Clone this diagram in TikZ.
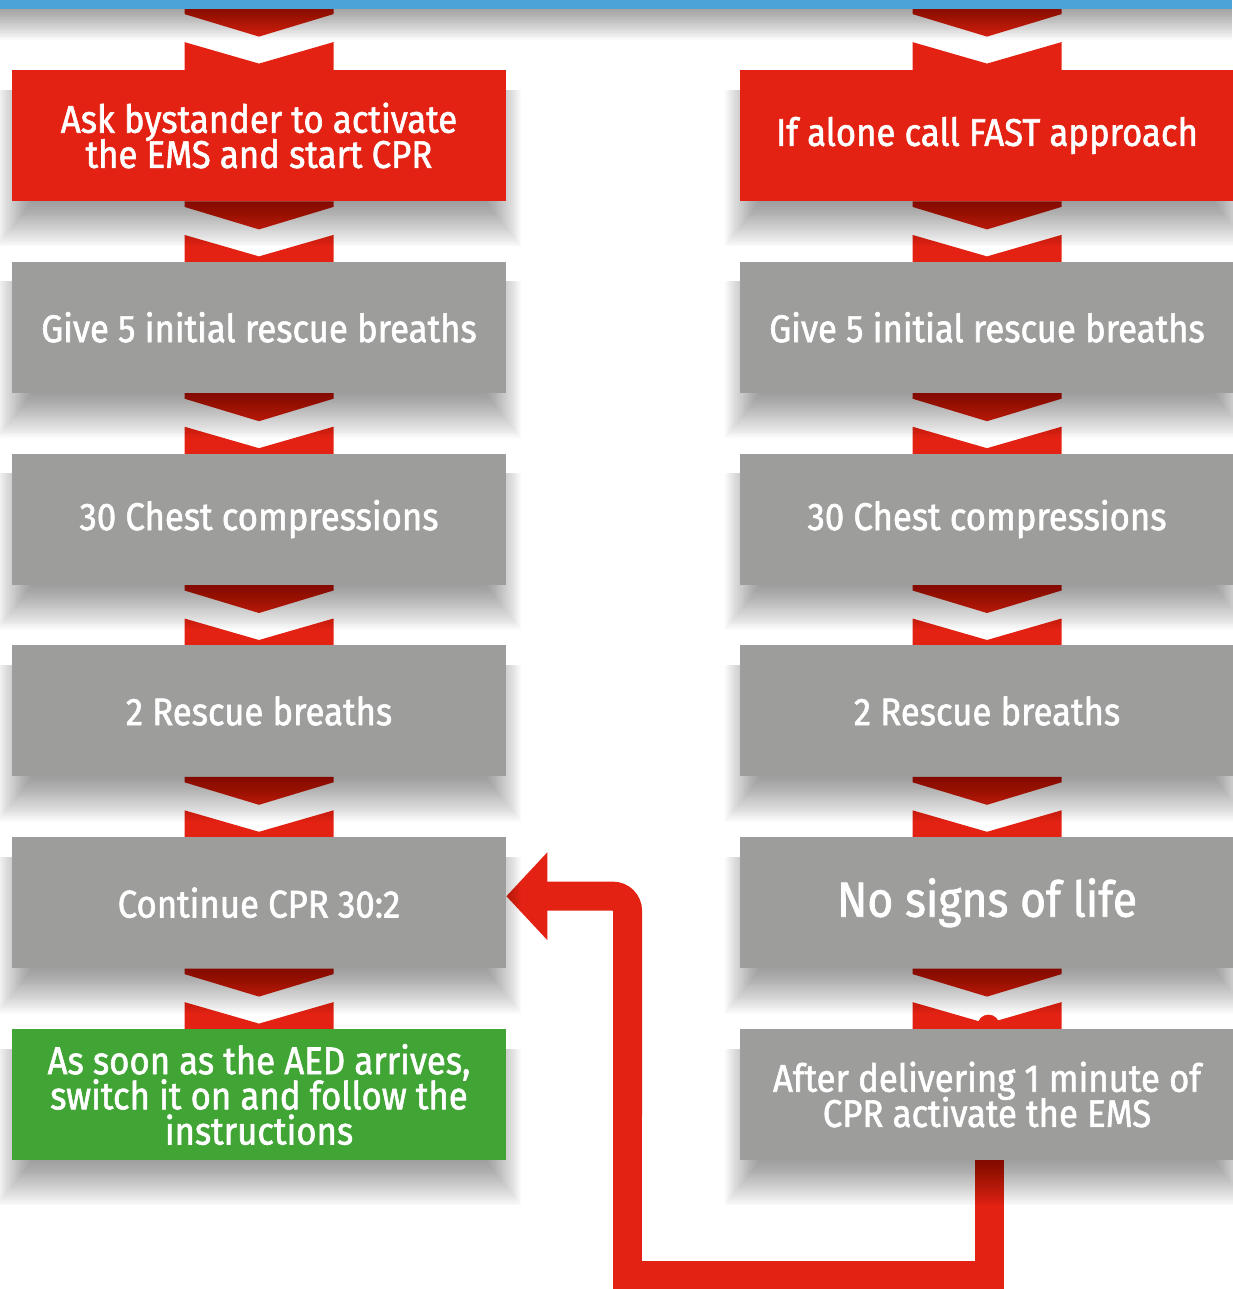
\documentclass[tikz,border=0pt]{standalone}
\usepackage{fontspec}
\newfontfamily\boxfont{Fira Sans}[FakeStretch=0.9, FakeBold=1.5]
\newcommand\boxfontsel{\boxfont\fontsize{19.3pt}{17.6pt}\selectfont\lineskiplimit=-30pt\relax}
\newcommand\bigfontsel{\boxfont\fontsize{24.7pt}{24pt}\selectfont}
\usetikzlibrary{calc}
\definecolor{cred}{HTML}{E32213}
\definecolor{cgray}{HTML}{9D9D9C}
\definecolor{cgreen}{HTML}{41A535}
\definecolor{cblue}{HTML}{4BA3D6}
\pgfdeclarelayer{bg}
\pgfdeclarelayer{shade}
\pgfsetlayers{bg,shade,main}
\begin{document}
\begin{tikzpicture}[x=0.5pt,y=-0.5pt,
  box/.style={minimum width=247pt, minimum height=65.5pt, inner sep=0pt, text=white, align=center,
    font=\boxfontsel},
  redbox/.style={box, fill=cred},
  graybox/.style={box, fill=cgray},
  greenbox/.style={box, fill=cgreen},
  bigtext/.style={font=\bigfontsel},
  conn/.style={draw=cred, line width=14.5pt},
  chevpair/.pic={
    \fill[cred] (-74.5,0) -- (74.5,0) -- (74.5,5.5) -- (0,28) -- (-74.5,5.5) -- cycle;
    \fill[cred] (-74.5,33.5) -- (0,55) -- (74.5,33.5) -- (74.5,64) -- (-74.5,64) -- cycle;
  }
]
\useasboundingbox (0,0) rectangle (1232,1289);

% boxes
\node[redbox]   (l1) at (259,135.5)  {Ask bystander to activate\\the EMS and start CPR};
\node[redbox]   (r1) at (987,135.5)  {If alone call FAST approach};
\node[graybox]  (l2) at (259,327.3)  {Give 5 initial rescue breaths};
\node[graybox]  (r2) at (987,327.3)  {Give 5 initial rescue breaths};
\node[graybox]  (l3) at (259,519.1)  {30 Chest compressions};
\node[graybox]  (r3) at (987,519.1)  {30 Chest compressions};
\node[graybox]  (l4) at (259,710.9)  {2 Rescue breaths};
\node[graybox]  (r4) at (987,710.9)  {2 Rescue breaths};
\node[graybox]  (l5) at (259,902.7)  {Continue CPR 30:2};
\node[graybox, bigtext] (r5) at (987,902.7) {No signs of life};
\node[greenbox] (l6) at (259,1094.5) {As soon as the AED arrives,\\switch it on and follow the\\instructions};
\node[graybox]  (r6) at (987,1094.5) {After delivering 1 minute of\\CPR activate the EMS};

\begin{pgfonlayer}{bg}
  % chevrons
  \pic at ($(l1.north)+(0,-61)$) {chevpair};
  \pic at ($(r1.north)+(0,-61)$) {chevpair};
  \foreach \n in {l1,l2,l3,l4,l5,r1,r2,r3,r4,r5} {
    \pic at (\n.south) {chevpair};
  }
  \fill[cred] ($(r5.south)+(1.5,57)$) circle[radius=5.5pt];
  % connector
  \coordinate (tipA) at ($(l5.east)+(0,-6.5)$);
  \coordinate (c1) at (627.5,1275);
  \coordinate (c2) at (c1 |- tipA);
  \coordinate (cm) at ($(c1)!0.5!(c2)$);
  \draw[conn, line join=miter] ($(r6.south)+(2.5,0)$) |- (c1) -- (cm);
  \draw[conn, rounded corners=7.25pt] ($(cm)+(0,30)$) -- (c2) -- ($(tipA)+(38,0)$);
  \fill[cred] (tipA) -- ++(41,-44) -- ++(0,88) -- cycle;
\end{pgfonlayer}

\begin{pgfonlayer}{shade}
  \foreach \n in {l1,l2,l3,l4,l5,l6,r1,r2,r3,r4,r5,r6} {
    \foreach \k in {1,...,24} {
      \fill[black, opacity=0.02] ($(\n.north west)+(21-1.5*\k,20)$) rectangle ($(\n.south east)+(-21+1.5*\k,1.875*\k)$);
    }
  }
  \foreach \k in {1,...,22} {
    \fill[black, opacity=0.02] (0,9) rectangle (1232,9+1.4*\k);
  }
  \fill[cblue] (0,0) rectangle (1232,9);
\end{pgfonlayer}
\end{tikzpicture}
\end{document}
